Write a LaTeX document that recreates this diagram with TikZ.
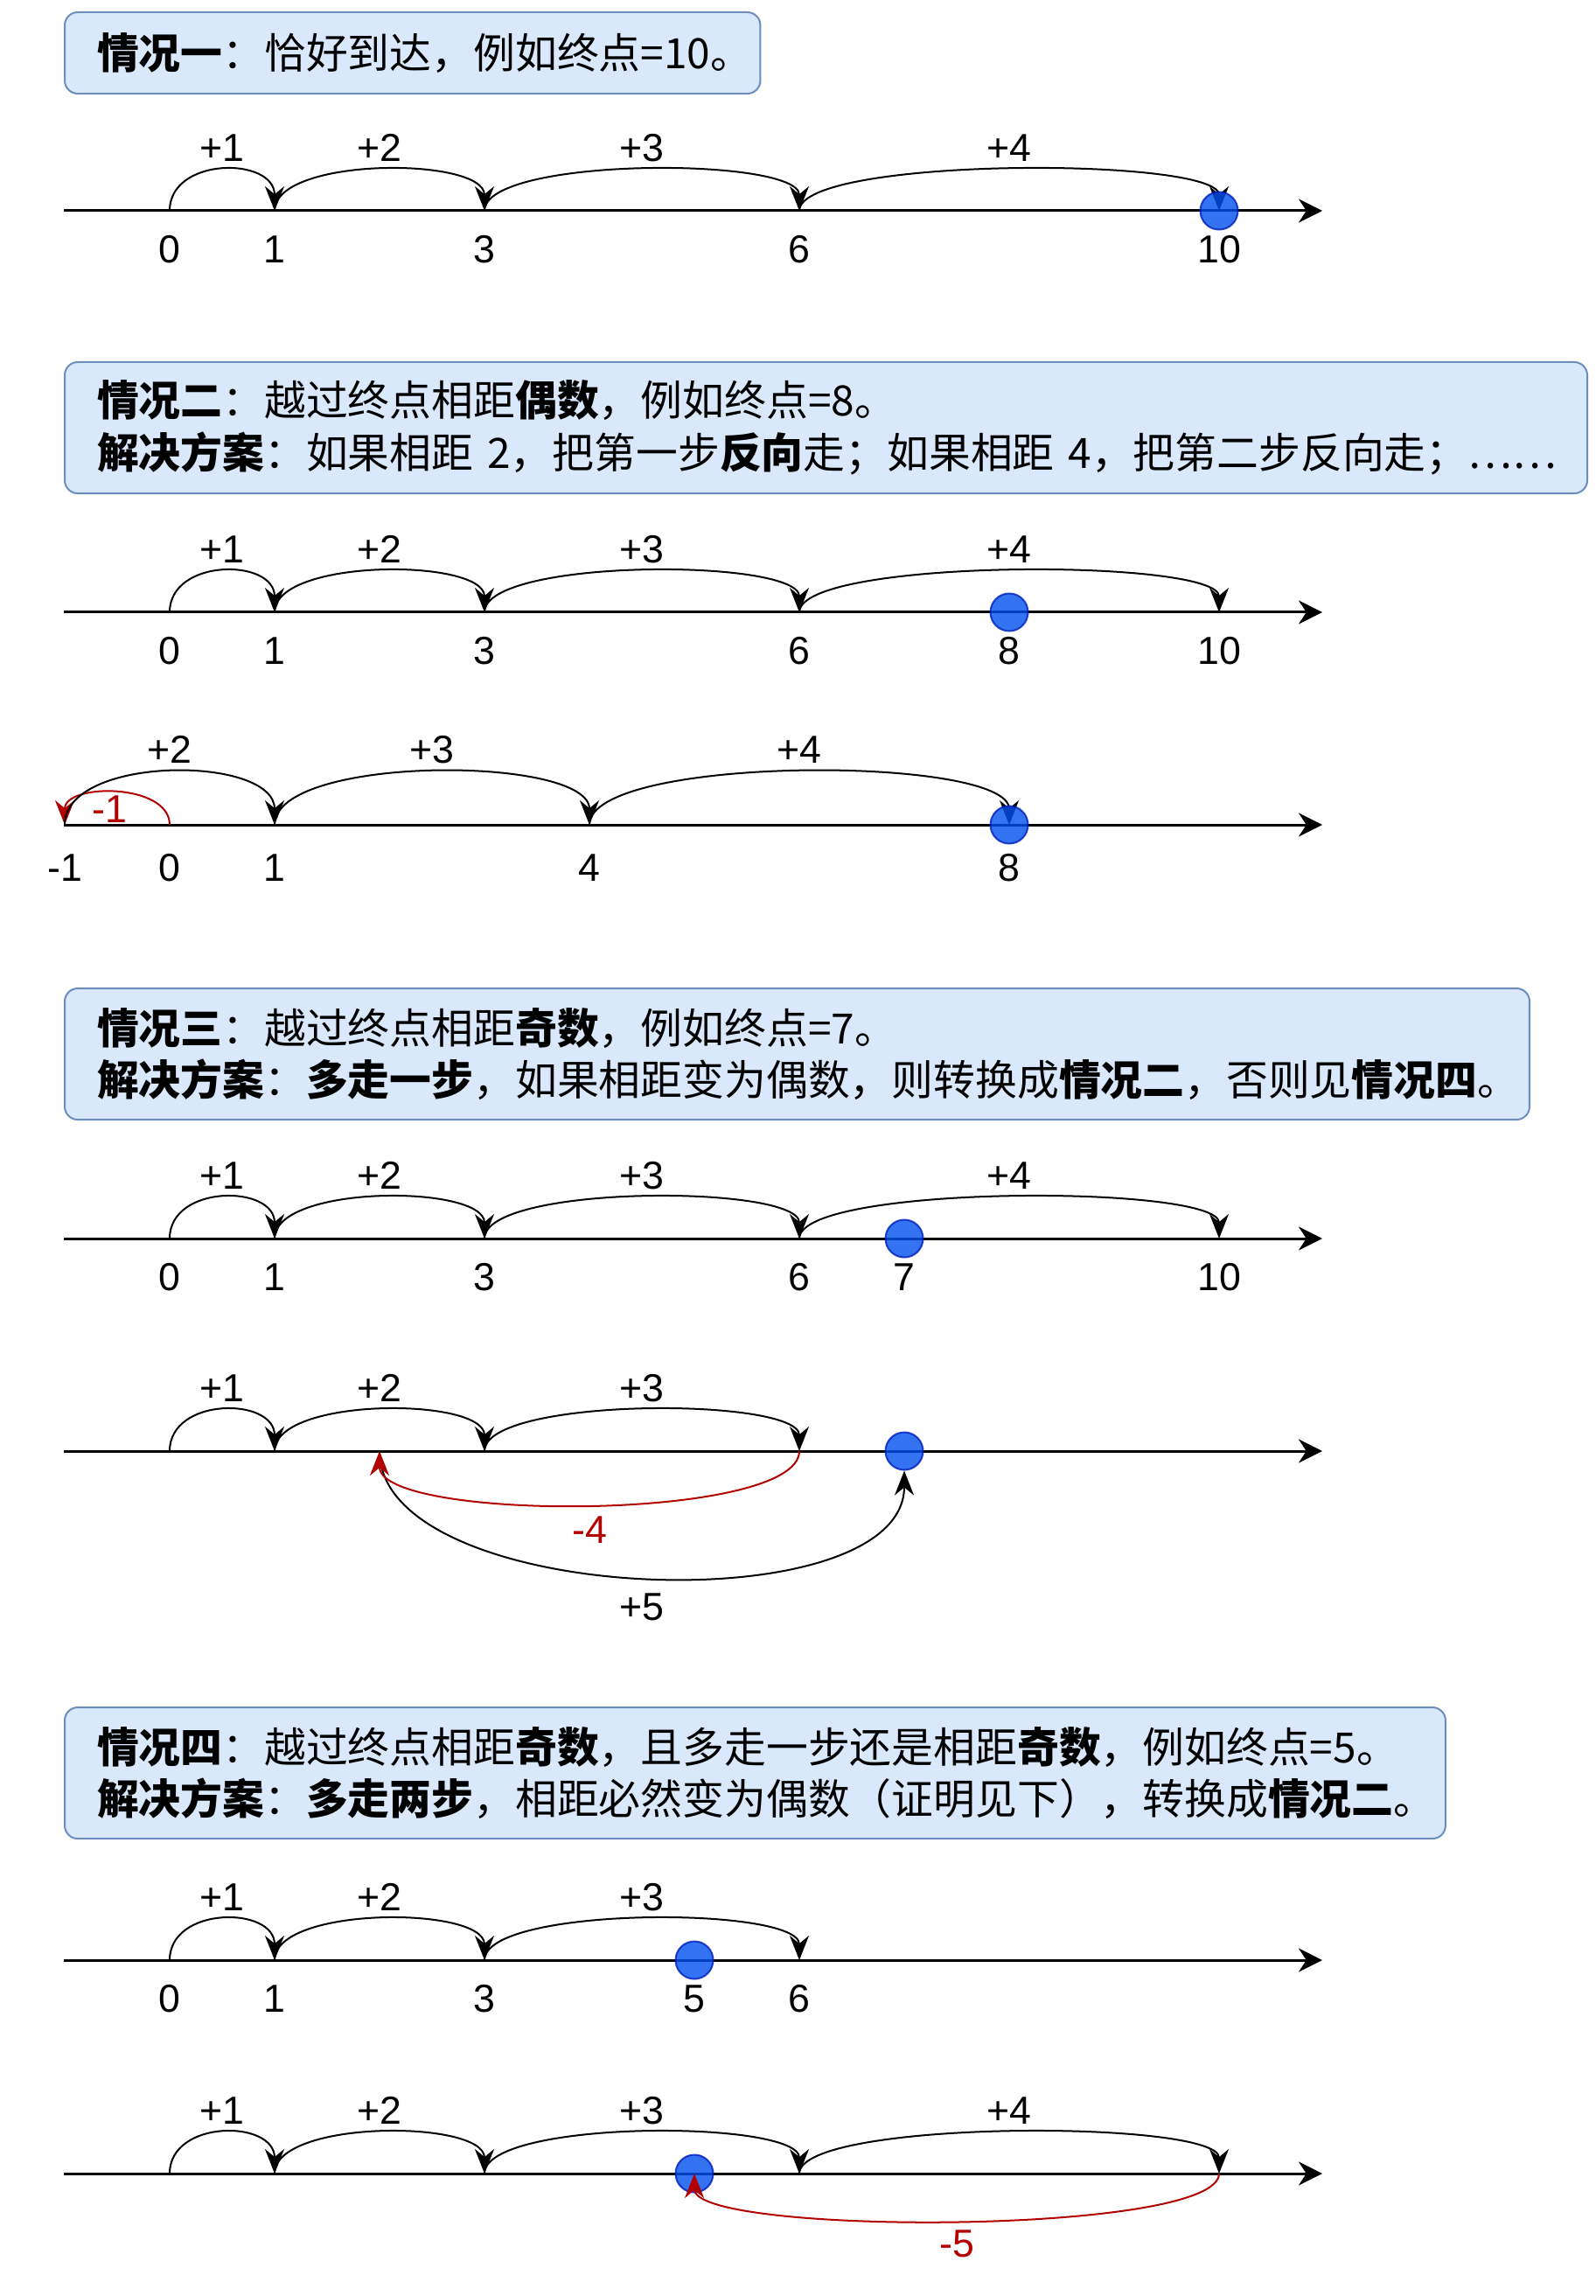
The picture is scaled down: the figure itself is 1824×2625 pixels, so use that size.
\documentclass[tikz,border=0pt]{standalone}
\usepackage{fontspec}
\setmainfont{Noto Sans CJK SC}
\newfontfamily\numfont{Liberation Sans}
\usetikzlibrary{arrows.meta, positioning}

\definecolor{notefill}{HTML}{DAE8FC}
\definecolor{noteline}{HTML}{6C8EBF}
\definecolor{dotfill}{HTML}{0050EF}
\definecolor{dotline}{HTML}{001DBC}
\definecolor{backred}{HTML}{B20000}

\begin{document}
\begin{tikzpicture}[
x=0.01cm, y=-0.01cm,
note/.style={draw=noteline, fill=notefill, line width=0.02cm, rounded corners=0.15cm, anchor=north west, align=left, inner xsep=0.37cm, minimum height=1.5cm, font=\fontsize{13.6pt}{17pt}\selectfont},
axis/.style={-{Stealth[length=0.27cm, width=0.27cm]}, line width=0.03cm},
jump/.style={-{Stealth[length=0.28cm, width=0.22cm]}, line width=0.02cm},
back/.style={jump, draw=backred},
num/.style={inner sep=0pt, font=\numfont\fontsize{12.7pt}{15pt}\selectfont},
lab/.style={num, midway, above=0.09cm},
neg/.style={num, text=backred},
dot/.style={circle, draw=dotline, fill=dotfill, opacity=0.8, line width=0.02cm, minimum size=0.43cm, inner sep=0pt}
]
\useasboundingbox (0,0) rectangle (1824,2625);

\node[note, minimum height=0.93cm, text width=7.21cm] (case1) at (73,13)
{\textbf{情况一}：恰好到达，例如终点=10。};

\path (73,241) coordinate (aS) (1512,241) coordinate (aE)
  (194,241) coordinate (a0) (314,241) coordinate (a1) (554,241) coordinate (a3)
  (914,241) coordinate (a6) (1394,241) coordinate (a10);
\draw[axis] (aS) -- (aE);
\node[num, below=0.28cm of a0] (na0) {0};
\node[num, below=0.28cm of a1] (na1) {1};
\node[num, below=0.28cm of a3] (na3) {3};
\node[num, below=0.28cm of a6] (na6) {6};
\node[num, below=0.28cm of a10] (na10) {10};
\draw[jump] (a0) .. controls +(0,-62) and +(0,-62) .. node[lab] (ja1) {+1} (a1);
\draw[jump] (a1) .. controls +(0,-62) and +(0,-62) .. node[lab] (ja2) {+2} (a3);
\draw[jump] (a3) .. controls +(0,-62) and +(0,-62) .. node[lab] (ja3) {+3} (a6);
\draw[jump] (a6) .. controls +(0,-62) and +(0,-62) .. node[lab] (ja4) {+4} (a10);
\node[dot] (da) at (a10) {};

\node[note, text width=16.66cm] (case2) at (73,413)
{\textbf{情况二}：越过终点相距\textbf{偶数}，例如终点=8。\\
\textbf{解决方案}：如果相距~2，把第一步\textbf{反向}走；如果相距~4，把第二步反向走；……};

\path (73,700) coordinate (bS) (1512,700) coordinate (bE)
  (194,700) coordinate (b0) (314,700) coordinate (b1) (554,700) coordinate (b3)
  (914,700) coordinate (b6) (1154,700) coordinate (b8) (1394,700) coordinate (b10);
\draw[axis] (bS) -- (bE);
\node[num, below=0.28cm of b0] (nb0) {0};
\node[num, below=0.28cm of b1] (nb1) {1};
\node[num, below=0.28cm of b3] (nb3) {3};
\node[num, below=0.28cm of b6] (nb6) {6};
\node[num, below=0.28cm of b8] (nb8) {8};
\node[num, below=0.28cm of b10] (nb10) {10};
\draw[jump] (b0) .. controls +(0,-62) and +(0,-62) .. node[lab] (jb1) {+1} (b1);
\draw[jump] (b1) .. controls +(0,-62) and +(0,-62) .. node[lab] (jb2) {+2} (b3);
\draw[jump] (b3) .. controls +(0,-62) and +(0,-62) .. node[lab] (jb3) {+3} (b6);
\draw[jump] (b6) .. controls +(0,-62) and +(0,-62) .. node[lab] (jb4) {+4} (b10);
\node[dot] (db) at (b8) {};

\path (73,943) coordinate (cS) (1512,943) coordinate (cE)
  (74,943) coordinate (cm1) (194,943) coordinate (c0) (314,943) coordinate (c1)
  (674,943) coordinate (c4) (1154,943) coordinate (c8);
\draw[axis] (cS) -- (cE);
\node[num, below=0.33cm of cm1] (ncm1) {-1};
\node[num, below=0.33cm of c0] (nc0) {0};
\node[num, below=0.33cm of c1] (nc1) {1};
\node[num, below=0.33cm of c4] (nc4) {4};
\node[num, below=0.33cm of c8] (nc8) {8};
\draw[back] (c0) .. controls +(0,-48) and +(0,-48) .. node[neg, pos=0.55, below=0.01cm] (jcm1) {-1} (cm1);
\draw[jump] (cm1) .. controls +(0,-80) and +(0,-80) .. node[lab] (jc2) {+2} (c1);
\draw[jump] (c1) .. controls +(0,-80) and +(0,-80) .. node[lab] (jc3) {+3} (c4);
\draw[jump] (c4) .. controls +(0,-80) and +(0,-80) .. node[lab] (jc4) {+4} (c8);
\node[dot] (dc) at (c8) {};

\node[note, text width=16.0cm] (case3) at (73,1129)
{\textbf{情况三}：越过终点相距\textbf{奇数}，例如终点=7。\\
\textbf{解决方案}：\textbf{多走一步}，如果相距变为偶数，则转换成\textbf{情况二}，否则见\textbf{情况四}。};

\path (73,1416) coordinate (dS) (1512,1416) coordinate (dE)
  (194,1416) coordinate (d0) (314,1416) coordinate (d1) (554,1416) coordinate (d3)
  (914,1416) coordinate (d6) (1034,1416) coordinate (d7) (1394,1416) coordinate (d10);
\draw[axis] (dS) -- (dE);
\node[num, below=0.28cm of d0] (nd0) {0};
\node[num, below=0.28cm of d1] (nd1) {1};
\node[num, below=0.28cm of d3] (nd3) {3};
\node[num, below=0.28cm of d6] (nd6) {6};
\node[num, below=0.28cm of d7] (nd7) {7};
\node[num, below=0.28cm of d10] (nd10) {10};
\draw[jump] (d0) .. controls +(0,-62) and +(0,-62) .. node[lab] (jd1) {+1} (d1);
\draw[jump] (d1) .. controls +(0,-62) and +(0,-62) .. node[lab] (jd2) {+2} (d3);
\draw[jump] (d3) .. controls +(0,-62) and +(0,-62) .. node[lab] (jd3) {+3} (d6);
\draw[jump] (d6) .. controls +(0,-62) and +(0,-62) .. node[lab] (jd4) {+4} (d10);
\node[dot] (dd) at (d7) {};

\path (73,1659) coordinate (eS) (1512,1659) coordinate (eE)
  (194,1659) coordinate (e0) (314,1659) coordinate (e1) (434,1659) coordinate (e2)
  (554,1659) coordinate (e3) (914,1659) coordinate (e6) (1034,1659) coordinate (e7);
\draw[axis] (eS) -- (eE);
\draw[jump] (e0) .. controls +(0,-62) and +(0,-62) .. node[lab] (je1) {+1} (e1);
\draw[jump] (e1) .. controls +(0,-62) and +(0,-62) .. node[lab] (je2) {+2} (e3);
\draw[jump] (e3) .. controls +(0,-62) and +(0,-62) .. node[lab] (je3) {+3} (e6);
\node[dot] (de) at (e7) {};
\draw[jump] (e2) .. controls +(0,177) and +(0,177) .. node[num, below=0.18cm] (je5) {+5} (de.south);
\draw[back] (e6) .. controls +(0,81) and +(0,81) .. node[neg, below=0.13cm] (jem4) {-4} (e2);

\node[note, text width=15.04cm] (case4) at (73,1951)
{\textbf{情况四}：越过终点相距\textbf{奇数}，且多走一步还是相距\textbf{奇数}，例如终点=5。\\
\textbf{解决方案}：\textbf{多走两步}，相距必然变为偶数（证明见下），转换成\textbf{情况二}。};

\path (73,2241) coordinate (fS) (1512,2241) coordinate (fE)
  (194,2241) coordinate (f0) (314,2241) coordinate (f1) (554,2241) coordinate (f3)
  (794,2241) coordinate (f5) (914,2241) coordinate (f6);
\draw[axis] (fS) -- (fE);
\node[num, below=0.28cm of f0] (nf0) {0};
\node[num, below=0.28cm of f1] (nf1) {1};
\node[num, below=0.28cm of f3] (nf3) {3};
\node[num, below=0.28cm of f5] (nf5) {5};
\node[num, below=0.28cm of f6] (nf6) {6};
\draw[jump] (f0) .. controls +(0,-62) and +(0,-62) .. node[lab] (jf1) {+1} (f1);
\draw[jump] (f1) .. controls +(0,-62) and +(0,-62) .. node[lab] (jf2) {+2} (f3);
\draw[jump] (f3) .. controls +(0,-62) and +(0,-62) .. node[lab] (jf3) {+3} (f6);
\node[dot] (df) at (f5) {};

\path (73,2485) coordinate (gS) (1512,2485) coordinate (gE)
  (194,2485) coordinate (g0) (314,2485) coordinate (g1) (554,2485) coordinate (g3)
  (794,2485) coordinate (g5) (914,2485) coordinate (g6) (1394,2485) coordinate (g10);
\draw[axis] (gS) -- (gE);
\draw[jump] (g0) .. controls +(0,-62) and +(0,-62) .. node[lab] (jg1) {+1} (g1);
\draw[jump] (g1) .. controls +(0,-62) and +(0,-62) .. node[lab] (jg2) {+2} (g3);
\draw[jump] (g3) .. controls +(0,-62) and +(0,-62) .. node[lab] (jg3) {+3} (g6);
\draw[jump] (g6) .. controls +(0,-62) and +(0,-62) .. node[lab] (jg4) {+4} (g10);
\node[dot] (dg) at (g5) {};
\draw[back] (g10) .. controls +(0,71) and +(0,71) .. node[neg, below=0.1cm] (jgm5) {-5} (g5);

\end{tikzpicture}
\end{document}
